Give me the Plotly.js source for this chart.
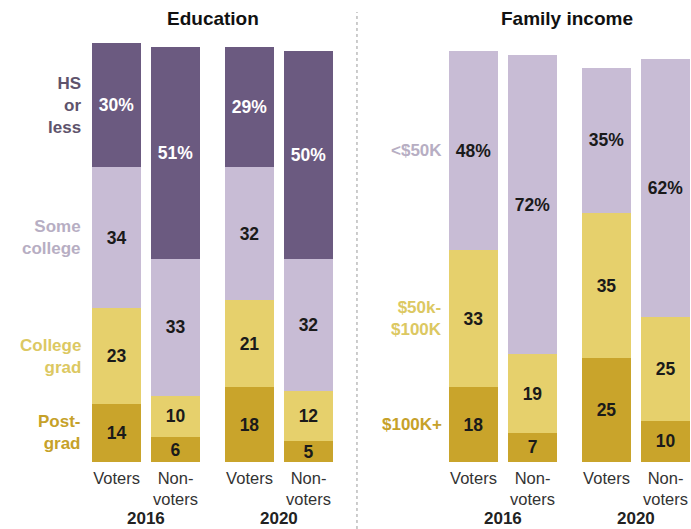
<!DOCTYPE html>
<html><head><meta charset="utf-8">
<script src="https://cdn.plot.ly/plotly-3.0.1.min.js"></script>
<style>html,body{margin:0;padding:0;background:#fff}#c{width:691px;height:529px}</style>
</head><body><div id="c"></div>
<script>
// ---- data ----
const groupLabels = ['Voters', 'Non-<br>voters', 'Voters', 'Non-<br>voters'];
const years = ['2016', '2020'];
const eduCats = ['Post-<br>grad', 'College<br>grad', 'Some<br>college', 'HS<br>or<br>less'];
const eduPost = [14, 6, 18, 5];
const eduCollege = [23, 10, 21, 12];
const eduSome = [34, 33, 32, 32];
const eduHS = [30, 51, 29, 50];
const incCats = ['$100K+', '$50k-<br>$100K', '<$50K'];
const incHigh = [18, 7, 25, 10];
const incMid = [33, 19, 35, 25];
const incLow = [48, 72, 35, 62];

// ---- styling ----
const colDark = '#6b5a80', colLav = '#c8bcd5', colYel = '#e6d06c', colGold = '#c9a42b';
const labDark = '#5e536c', labLav = '#b7aec3', labYel = '#dcc862', labGold = '#c6a129';
const pos = [0, 1, 2.254, 3.254];
const barW = 0.83;
const FONT = 'Liberation Sans, Arial, sans-serif';

function mk(vals, color, tcol, axis, pct) {
  return {
    type: 'bar', x: pos, y: vals, width: barW,
    xaxis: axis, yaxis: 'y',
    marker: {color: color, line: {width: 0}},
    text: vals.map(v => pct ? v + '%' : String(v)),
    textposition: 'inside', insidetextanchor: 'middle', constraintext: 'none', textangle: 0,
    textfont: {family: FONT, size: 17.5, color: tcol, weight: 'bold'},
    hoverinfo: 'none', showlegend: false, cliponaxis: false
  };
}
const traces = [
  mk(eduPost, colGold, '#1a1a1a', 'x', false),
  mk(eduCollege, colYel, '#1a1a1a', 'x', false),
  mk(eduSome, colLav, '#1a1a1a', 'x', false),
  mk(eduHS, colDark, '#ffffff', 'x', true),
  mk(incHigh, colGold, '#1a1a1a', 'x2', false),
  mk(incMid, colYel, '#1a1a1a', 'x2', false),
  mk(incLow, colLav, '#1a1a1a', 'x2', true)
];

// category label positions from first bar's segment centers
function centers(series) {
  let c = 0; const out = [];
  series.forEach(s => { out.push(c + s[0] / 2); c += s[0]; });
  return out;
}
const eduC = centers([eduPost, eduCollege, eduSome, eduHS]);
const incC = centers([incHigh, incMid, incLow]);
const eduLabCols = [labGold, labYel, labLav, labDark];
const incLabCols = [labGold, labYel, labLav];

const ann = [];
eduCats.forEach((t, i) => ann.push({xref: 'x', yref: 'y', x: -0.57, y: eduC[i], text: t, showarrow: false,
  xanchor: 'right', yanchor: 'middle', align: 'right', font: {family: FONT, size: 17, color: eduLabCols[i], weight: 'bold'}}));
incCats.forEach((t, i) => ann.push({xref: 'x2', yref: 'y', x: -0.5, y: incC[i], text: t, showarrow: false,
  xanchor: 'right', yanchor: 'middle', align: 'right', font: {family: FONT, size: 17, color: incLabCols[i], weight: 'bold'}}));
['x', 'x2'].forEach(ax => {
  ann.push({xref: ax, yref: 'paper', x: (pos[0] + pos[1]) / 2, y: -0.122, text: years[0], showarrow: false,
    yanchor: 'middle', font: {family: FONT, size: 17, color: '#222', weight: 'bold'}});
  ann.push({xref: ax, yref: 'paper', x: (pos[2] + pos[3]) / 2, y: -0.122, text: years[1], showarrow: false,
    yanchor: 'middle', font: {family: FONT, size: 17, color: '#222', weight: 'bold'}});
});
ann.push({xref: 'x', yref: 'paper', x: (pos[0] + pos[3]) / 2, y: 0.961, text: 'Education', showarrow: false,
  yanchor: 'middle', font: {family: FONT, size: 19, color: '#111', weight: 'bold'}});
ann.push({xref: 'x2', yref: 'paper', x: (pos[0] + pos[3]) / 2 - 0.05, y: 0.961, text: 'Family income', showarrow: false,
  yanchor: 'middle', font: {family: FONT, size: 19, color: '#111', weight: 'bold'}});

const xbase = {
  showgrid: false, zeroline: false, showline: false, ticks: '',
  tickvals: pos, ticktext: groupLabels, tickangle: 0, ticklabelstandoff: 4,
  tickfont: {family: FONT, size: 16.5, color: '#333'}, fixedrange: true
};
const layout = {
  width: 691, height: 529,
  margin: {l: 0, r: 0, t: 0, b: 67, pad: 0},
  paper_bgcolor: '#fff', plot_bgcolor: '#fff',
  barmode: 'stack', bargap: 0,
  xaxis: Object.assign({}, xbase, {domain: [0, 0.5], range: [-1.975, 3.881]}),
  xaxis2: Object.assign({}, xbase, {domain: [0.5, 1], range: [-2.169, 3.686], anchor: 'y'}),
  yaxis: {range: [0, 111.33], showgrid: false, zeroline: false, showticklabels: false, showline: false, fixedrange: true},
  annotations: ann,
  shapes: [{type: 'line', xref: 'paper', yref: 'paper', x0: 0.5166, x1: 0.5166, y0: -0.145, y1: 0.974,
    line: {color: '#9a9a9a', width: 1, dash: 'dot'}}]
};
Plotly.newPlot('c', traces, layout, {displayModeBar: false, staticPlot: true});
</script></body></html>
